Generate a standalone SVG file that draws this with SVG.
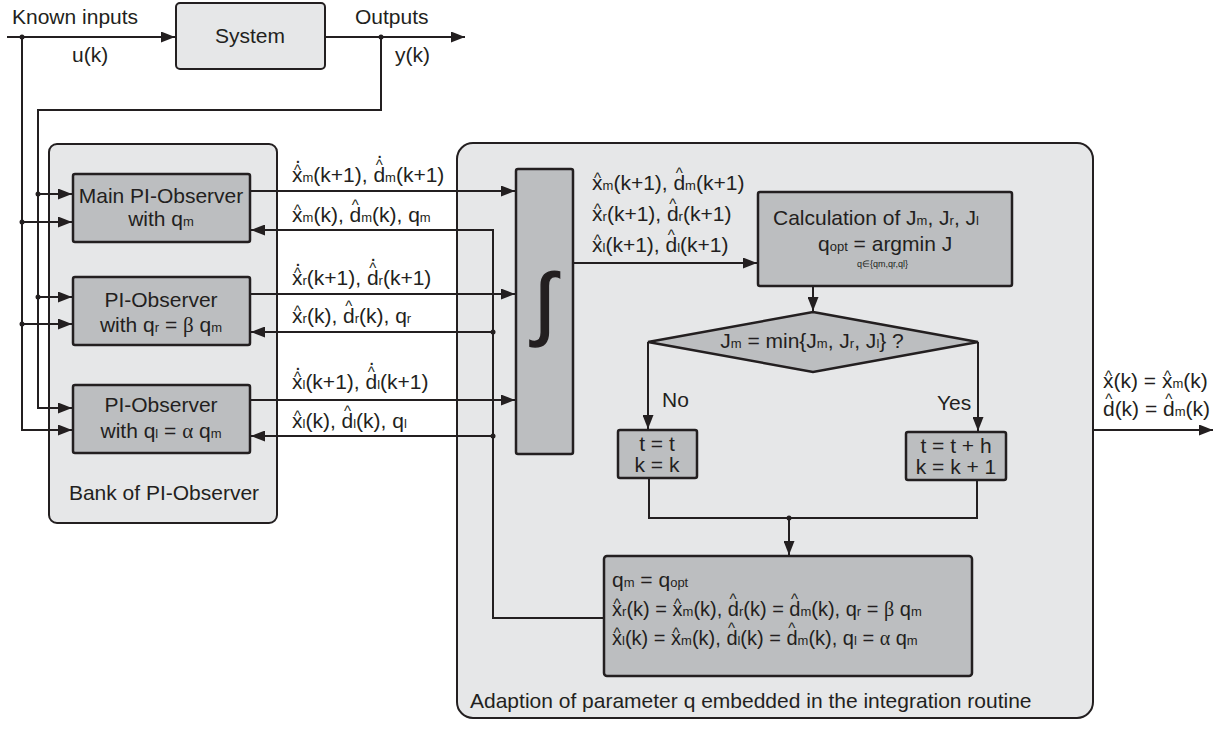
<svg xmlns="http://www.w3.org/2000/svg" width="1227" height="747" viewBox="0 0 1227 747">
<defs>
<style>
.bg{fill:#e6e7e8;stroke:#231f20;stroke-width:2}
.box{fill:#bcbec0;stroke:#231f20;stroke-width:2.5}
.ln{fill:none;stroke:#231f20;stroke-width:2}
.ar{fill:none;stroke:#231f20;stroke-width:2;marker-end:url(#a)}
.dot{fill:#231f20}
text{font-family:"Liberation Sans",Arial,sans-serif;font-size:21px;fill:#231f20}
.s{font-size:13px}
.h{font-size:15px}
.g{font-family:"Liberation Serif","Times New Roman",serif}
.m{text-anchor:middle}
</style>
<marker id="a" viewBox="0 0 14 11" refX="14" refY="5.5" markerWidth="14" markerHeight="11" orient="auto" markerUnits="userSpaceOnUse"><path d="M0,0 L14,5.5 L0,11 Z" fill="#231f20"/></marker>
</defs>
<rect width="1227" height="747" fill="#ffffff"/>

<g id="bank">
<rect class="bg" x="49" y="144" width="228" height="379" rx="8"/>
<text class="m" x="164" y="500">Bank of PI-Observer</text>
</g>
<g id="adaption">
<rect class="bg" x="457" y="143" width="636" height="575" rx="16"/>
<text x="470" y="708">Adaption of parameter q embedded in the integration routine</text>
</g>

<g id="connectors">
<path class="ar" d="M7,37 H175"/>
<path class="ar" d="M325,37 H465"/>
<path class="ar" d="M381,37 V110 H38 V408 H72"/>
<path class="ar" d="M22,37 V430 H72"/>
<path class="ar" d="M38,194 H72"/>
<path class="ar" d="M38,297 H72"/>
<path class="ar" d="M22,222 H72"/>
<path class="ar" d="M22,324 H72"/>
<path class="ar" d="M250,191 H515"/>
<path class="ar" d="M250,294 H515"/>
<path class="ar" d="M250,400 H515"/>
<path class="ar" d="M604,618 H493 V230 H251"/>
<path class="ar" d="M493,332 H251"/>
<path class="ar" d="M493,436 H251"/>
<path class="ar" d="M573,263 H757"/>
<path class="ar" d="M813,286 V311"/>
<path class="ar" d="M648,342 V429"/>
<path class="ar" d="M978,342 V431"/>
<path class="ln" d="M649,478 V518 H977 V480"/>
<path class="ar" d="M789,518 V555"/>
<path class="ar" d="M1093,430 H1213"/>
<circle class="dot" cx="22" cy="37" r="2.5"/>
<circle class="dot" cx="381" cy="37" r="2.5"/>
<circle class="dot" cx="38" cy="194" r="2.5"/>
<circle class="dot" cx="38" cy="297" r="2.5"/>
<circle class="dot" cx="22" cy="222" r="2.5"/>
<circle class="dot" cx="22" cy="324" r="2.5"/>
<circle class="dot" cx="493" cy="332" r="2.5"/>
<circle class="dot" cx="493" cy="436" r="2.5"/>
<circle class="dot" cx="789" cy="518" r="2.5"/>
</g>

<g id="labels">
<text x="12" y="24">Known inputs</text>
<text x="72" y="62">u(k)</text>
<text x="355" y="24">Outputs</text>
<text x="395" y="62">y(k)</text>
<text x="292" y="182">x<tspan class="h" dx="-8.5" dy="-7">^</tspan><tspan dx="-6.1" dy="-12">.</tspan><tspan class="s" dx="1.7" dy="19">m</tspan>(k+1), d<tspan class="h" dx="-9.4" dy="-12">^</tspan><tspan dx="-6.1" dy="-12">.</tspan><tspan class="s" dx="2.6" dy="24">m</tspan>(k+1)</text>
<text x="292" y="222">x<tspan class="h" dx="-8.5" dy="-7">^</tspan><tspan class="s" dx="1.5" dy="7">m</tspan>(k), d<tspan class="h" dx="-9.4" dy="-12">^</tspan><tspan class="s" dx="2.3" dy="12">m</tspan>(k), q<tspan class="s">m</tspan></text>
<text x="292" y="285">x<tspan class="h" dx="-8.5" dy="-7">^</tspan><tspan dx="-6.1" dy="-12">.</tspan><tspan class="s" dx="1.7" dy="19">r</tspan>(k+1), d<tspan class="h" dx="-9.4" dy="-12">^</tspan><tspan dx="-6.1" dy="-12">.</tspan><tspan class="s" dx="2.6" dy="24">r</tspan>(k+1)</text>
<text x="292" y="323">x<tspan class="h" dx="-8.5" dy="-7">^</tspan><tspan class="s" dx="1.5" dy="7">r</tspan>(k), d<tspan class="h" dx="-9.4" dy="-12">^</tspan><tspan class="s" dx="2.3" dy="12">r</tspan>(k), q<tspan class="s">r</tspan></text>
<text x="292" y="389">x<tspan class="h" dx="-8.5" dy="-7">^</tspan><tspan dx="-6.1" dy="-12">.</tspan><tspan class="s" dx="1.7" dy="19">l</tspan>(k+1), d<tspan class="h" dx="-9.4" dy="-12">^</tspan><tspan dx="-6.1" dy="-12">.</tspan><tspan class="s" dx="2.6" dy="24">l</tspan>(k+1)</text>
<text x="292" y="428">x<tspan class="h" dx="-8.5" dy="-7">^</tspan><tspan class="s" dx="1.5" dy="7">l</tspan>(k), d<tspan class="h" dx="-9.4" dy="-12">^</tspan><tspan class="s" dx="2.3" dy="12">l</tspan>(k), q<tspan class="s">l</tspan></text>
<text x="592" y="190">x<tspan class="h" dx="-8.5" dy="-7">^</tspan><tspan class="s" dx="1.5" dy="7">m</tspan>(k+1), d<tspan class="h" dx="-9.4" dy="-12">^</tspan><tspan class="s" dx="2.3" dy="12">m</tspan>(k+1)</text>
<text x="592" y="221">x<tspan class="h" dx="-8.5" dy="-7">^</tspan><tspan class="s" dx="1.5" dy="7">r</tspan>(k+1), d<tspan class="h" dx="-9.4" dy="-12">^</tspan><tspan class="s" dx="2.3" dy="12">r</tspan>(k+1)</text>
<text x="592" y="252">x<tspan class="h" dx="-8.5" dy="-7">^</tspan><tspan class="s" dx="1.5" dy="7">l</tspan>(k+1), d<tspan class="h" dx="-9.4" dy="-12">^</tspan><tspan class="s" dx="2.3" dy="12">l</tspan>(k+1)</text>
<text x="662" y="407">No</text>
<text x="937" y="410">Yes</text>
<text x="1103" y="388">x<tspan class="h" dx="-8.5" dy="-7">^</tspan><tspan dx="1.5" dy="7">(k) = x</tspan><tspan class="h" dx="-8.5" dy="-7">^</tspan><tspan class="s" dx="1.5" dy="7">m</tspan>(k)</text>
<text x="1103" y="416">d<tspan class="h" dx="-9.4" dy="-12">^</tspan><tspan dx="2.3" dy="12">(k) = d</tspan><tspan class="h" dx="-9.4" dy="-12">^</tspan><tspan class="s" dx="2.3" dy="12">m</tspan>(k)</text>
</g>

<g id="system">
<rect class="bg" x="176" y="3" width="149" height="66" rx="4"/>
<text class="m" x="250" y="43">System</text>
</g>
<g id="obs-main">
<rect class="box" x="73" y="174" width="177" height="68" rx="2"/>
<text class="m" x="161" y="203">Main PI-Observer</text>
<text class="m" x="161" y="226">with q<tspan class="s">m</tspan></text>
</g>
<g id="obs-r">
<rect class="box" x="73" y="277" width="177" height="68" rx="2"/>
<text class="m" x="161" y="307">PI-Observer</text>
<text class="m" x="161" y="332">with q<tspan class="s">r</tspan> = <tspan class="g">β</tspan> q<tspan class="s">m</tspan></text>
</g>
<g id="obs-l">
<rect class="box" x="73" y="385" width="177" height="68" rx="2"/>
<text class="m" x="161" y="412">PI-Observer</text>
<text class="m" x="161" y="438">with q<tspan class="s">l</tspan> = <tspan class="g">α</tspan> q<tspan class="s">m</tspan></text>
</g>
<g id="integrator">
<rect class="box" x="516" y="169" width="57" height="285" rx="2"/>
<text class="m" x="545" y="330" style="font-size:80px;stroke:#231f20;stroke-width:1.5">∫</text>
</g>
<g id="calc">
<rect class="box" x="758" y="192" width="254" height="94" rx="2"/>
<text x="773" y="225">Calculation of J<tspan class="s">m</tspan>, J<tspan class="s">r</tspan>, J<tspan class="s">l</tspan></text>
<text x="818" y="251">q<tspan class="s">opt</tspan> = argmin J</text>
<text x="857" y="267" style="font-size:9px">q∈{qm,qr,ql}</text>
</g>
<g id="decision">
<polygon class="box" points="813,312 978,342 813,372 648,342"/>
<text class="m" x="812" y="348">J<tspan class="s">m</tspan> = min{J<tspan class="s">m</tspan>, J<tspan class="s">r</tspan>, J<tspan class="s">l</tspan>} ?</text>
</g>
<g id="no-box">
<rect class="box" x="618" y="430" width="79" height="48" rx="2"/>
<text class="m" x="657" y="451">t = t</text>
<text class="m" x="657" y="472">k = k</text>
</g>
<g id="yes-box">
<rect class="box" x="906" y="432" width="100" height="48" rx="2"/>
<text class="m" x="956" y="453">t = t + h</text>
<text class="m" x="956" y="474">k = k + 1</text>
</g>
<g id="update">
<rect class="box" x="604" y="556" width="368" height="120" rx="3"/>
<text x="612" y="587">q<tspan class="s">m</tspan> = q<tspan class="s">opt</tspan></text>
<text x="612" y="616" style="font-size:20px">x<tspan class="h" dx="-8.5" dy="-7">^</tspan><tspan class="s" dx="1.5" dy="7">r</tspan>(k) = x<tspan class="h" dx="-8.5" dy="-7">^</tspan><tspan class="s" dx="1.5" dy="7">m</tspan>(k), d<tspan class="h" dx="-9.4" dy="-12">^</tspan><tspan class="s" dx="2.3" dy="12">r</tspan>(k) = d<tspan class="h" dx="-9.4" dy="-12">^</tspan><tspan class="s" dx="2.3" dy="12">m</tspan>(k), q<tspan class="s">r</tspan> = <tspan class="g">β</tspan> q<tspan class="s">m</tspan></text>
<text x="612" y="645" style="font-size:20px">x<tspan class="h" dx="-8.5" dy="-7">^</tspan><tspan class="s" dx="1.5" dy="7">l</tspan>(k) = x<tspan class="h" dx="-8.5" dy="-7">^</tspan><tspan class="s" dx="1.5" dy="7">m</tspan>(k), d<tspan class="h" dx="-9.4" dy="-12">^</tspan><tspan class="s" dx="2.3" dy="12">l</tspan>(k) = d<tspan class="h" dx="-9.4" dy="-12">^</tspan><tspan class="s" dx="2.3" dy="12">m</tspan>(k), q<tspan class="s">l</tspan> = <tspan class="g">α</tspan> q<tspan class="s">m</tspan></text>
</g>
</svg>
